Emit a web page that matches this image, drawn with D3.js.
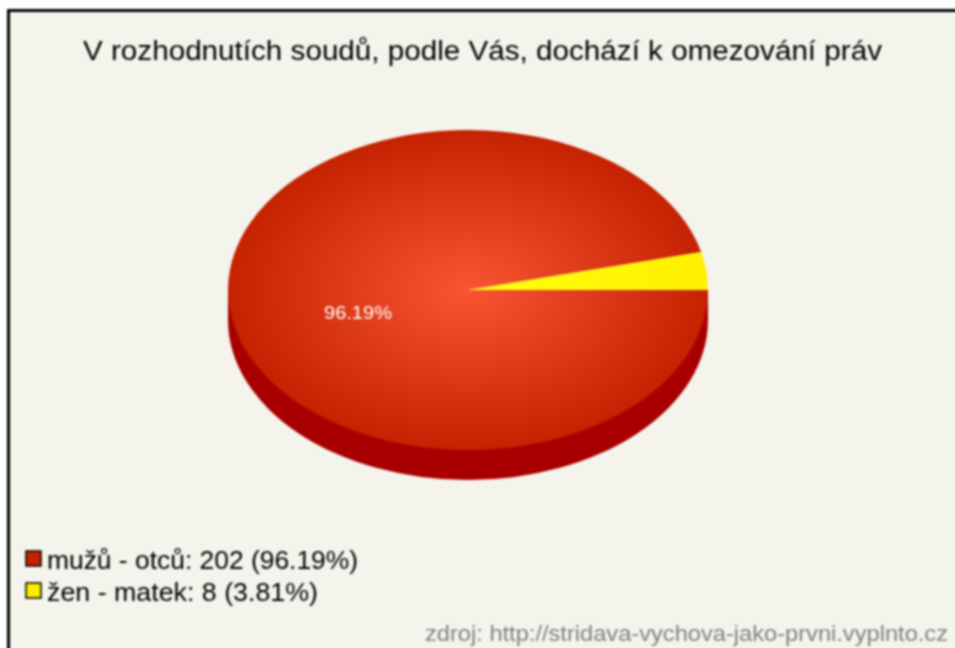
<!DOCTYPE html>
<html>
<head>
<meta charset="utf-8">
<script src="https://cdn.jsdelivr.net/npm/d3@7"></script>
<style>
html, body { margin: 0; padding: 0; background: #fff; overflow: hidden; }
svg { display: block; }
#chart { filter: blur(0.8px); }
text { font-family: "Liberation Sans", Arial, sans-serif; }
</style>
</head>
<body>
<div id="chart"></div>
<script>
// data
const categories = ["mužů - otců", "žen - matek"]
const values = [202, 8]
const percents = ["96.19%", "3.81%"]
const colors = ["#c42200", "#ffee00"]
const titleText = "V rozhodnutích soudů, podle Vás, dochází k omezování práv"
const sourceText = "zdroj: http://stridava-vychova-jako-prvni.vyplnto.cz"

// dimensions
const width = 955, height = 648
const cx = 468, cy = 290, rx = 240, ry = 160, depth = 30
const squash = ry / rx

// svg runs past the window so the blur does not fade the right and bottom edges
const svg = d3.select("#chart").append("svg")
    .attr("width", width + 20)
    .attr("height", height + 20)

// gradients
const defs = svg.append("defs")
const stops = [
    ["gradRed", "#f95535", "#c42200"],
    ["gradYellow", "#ffff10", "#fff000"]
]
stops.forEach(s => {
    const g = defs.append("radialGradient")
        .attr("id", s[0])
        .attr("gradientUnits", "userSpaceOnUse")
        .attr("cx", 0).attr("cy", 0).attr("r", rx)
    g.append("stop").attr("offset", "0%").attr("stop-color", s[1])
    g.append("stop").attr("offset", "100%").attr("stop-color", s[2])
})

// frame
svg.append("rect")
    .attr("x", 8.5).attr("y", 10.5)
    .attr("width", width + 30).attr("height", height + 30)
    .attr("fill", "#f4f4ec")
    .attr("stroke", "#000")
    .attr("stroke-width", 3)

// title, stretched to the width it has in the picture
svg.append("text")
    .attr("x", 83).attr("y", 60)
    .attr("textLength", 799)
    .attr("lengthAdjust", "spacingAndGlyphs")
    .style("font-size", "27px")
    .style("fill", "#000")
    .text(titleText)

// pie
const pie = d3.pie().sort(null)
    .startAngle(Math.PI / 2)
    .endAngle(Math.PI / 2 + 2 * Math.PI)
const arcs = pie(values)
const arc = d3.arc().innerRadius(0).outerRadius(rx)

const pieG = svg.append("g")
    .attr("transform", `translate(${cx},${cy}) scale(1,${squash})`)

// side wall
const side = pieG.append("g")
side.append("path")
    .attr("d", arc({ startAngle: Math.PI / 2, endAngle: 3 * Math.PI / 2 }))
    .attr("transform", `translate(0,${depth / squash})`)
    .attr("fill", "#a80000")
side.append("rect")
    .attr("x", -rx).attr("y", 0)
    .attr("width", 2 * rx).attr("height", depth / squash)
    .attr("fill", "#a80000")

// slices
pieG.selectAll("path.slice")
    .data(arcs)
    .join("path")
    .attr("class", "slice")
    .attr("d", arc)
    .attr("fill", (d, i) => i === 0 ? "url(#gradRed)" : "url(#gradYellow)")

// label on the big slice
svg.append("text")
    .attr("x", 324).attr("y", 319)
    .attr("textLength", 68)
    .attr("lengthAdjust", "spacingAndGlyphs")
    .style("font-size", "19px")
    .style("fill", "#fff")
    .text(percents[0])

// legend
const legendWidths = [311, 271]
const legend = svg.selectAll("g.legend")
    .data(categories)
    .join("g")
    .attr("class", "legend")
    .attr("transform", (d, i) => `translate(26,${551 + i * 32})`)

legend.append("rect")
    .attr("x", 0).attr("y", 0)
    .attr("width", 15).attr("height", 15)
    .attr("fill", (d, i) => colors[i])
    .attr("stroke", "#000")
    .attr("stroke-width", 1.5)

legend.append("text")
    .attr("x", 21).attr("y", 18)
    .attr("textLength", (d, i) => legendWidths[i])
    .attr("lengthAdjust", "spacingAndGlyphs")
    .style("font-size", "25px")
    .style("fill", "#000")
    .text((d, i) => `${d}: ${values[i]} (${percents[i]})`)

// source
svg.append("text")
    .attr("x", 425).attr("y", 641)
    .attr("textLength", 523)
    .attr("lengthAdjust", "spacingAndGlyphs")
    .style("font-size", "22px")
    .style("fill", "#808080")
    .text(sourceText)
</script>
</body>
</html>
